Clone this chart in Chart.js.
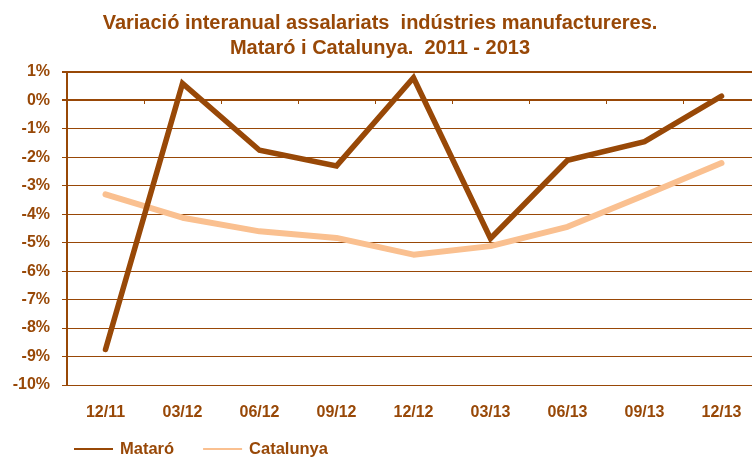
<!DOCTYPE html>
<html><head><meta charset="utf-8">
<script src="https://cdn.jsdelivr.net/npm/chart.js@4/dist/chart.umd.min.js"></script>
<style>html,body{margin:0;padding:0;overflow:hidden;background:#fff}#wrap{width:760px;height:457px}</style>
</head><body><div id="wrap"><canvas id="c" width="760" height="457"></canvas></div>
<script>
const categories = ['12/11','03/12','06/12','09/12','12/12','03/13','06/13','09/13','12/13'];
const mataro = [-8.75, 0.6, -1.75, -2.3, 0.8, -4.85, -2.1, -1.45, 0.15];
const catalunya = [-3.3, -4.12, -4.6, -4.83, -5.42, -5.12, -4.44, -3.33, -2.2];
const seriesNames = ['Mataró', 'Catalunya'];
const yMin = -10, yMax = 1, yStep = 1;
const titleLines = ['Variació interanual assalariats  indústries manufactureres.', 'Mataró i Catalunya.  2011 - 2013'];

const BROWN = '#984807';
const PEACH = '#FAC090';
const FONT = "'Liberation Sans', Arial, sans-serif";

const legendPlugin = {
  id: 'customLegend',
  afterDraw(chart) {
    const ctx = chart.ctx;
    ctx.save();
    ctx.font = 'bold 16.5px ' + FONT;
    ctx.textBaseline = 'middle';
    ctx.textAlign = 'left';
    let x = 74;
    const y = 449;
    chart.data.datasets.forEach((ds) => {
      ctx.strokeStyle = ds.borderColor;
      ctx.lineWidth = 2;
      ctx.beginPath();
      ctx.moveTo(x, y);
      ctx.lineTo(x + 39, y);
      ctx.stroke();
      ctx.fillStyle = BROWN;
      ctx.fillText(ds.label, x + 46, y);
      x += 46 + ctx.measureText(ds.label).width + 29;
    });
    ctx.restore();
  }
};

new Chart(document.getElementById('c'), {
  type: 'line',
  data: {
    labels: categories,
    datasets: [
      { label: seriesNames[0], data: mataro, borderColor: BROWN, borderWidth: 5.5, pointRadius: 0, borderCapStyle: 'round', borderJoinStyle: 'miter', tension: 0, order: 1 },
      { label: seriesNames[1], data: catalunya, borderColor: PEACH, borderWidth: 6, pointRadius: 0, borderCapStyle: 'round', borderJoinStyle: 'round', tension: 0, order: 2 }
    ]
  },
  options: {
    responsive: false,
    animation: false,
    layout: { padding: { left: 0, right: 0, top: 0, bottom: 0 } },
    plugins: {
      legend: { display: false },
      tooltip: { enabled: false },
      title: {
        display: true,
        text: titleLines,
        color: BROWN,
        font: { family: FONT, size: 20, weight: 'bold', lineHeight: 1.25 },
        padding: { top: 11, bottom: 11 }
      }
    },
    scales: {
      x: {
        type: 'category',
        position: 'bottom',
        offset: true,
        grid: { display: false, drawTicks: false },
        border: { display: false },
        ticks: { color: BROWN, font: { family: FONT, size: 16, weight: 'bold' }, padding: 18, maxRotation: 0, autoSkip: false },
        afterFit(scale) { scale.height = 72; }
      },
      x2: {
        type: 'category',
        labels: categories,
        position: { y: 0 },
        offset: true,
        grid: { offset: true, drawOnChartArea: false, drawTicks: true, tickLength: 4, color: BROWN, lineWidth: 1 },
        border: { display: false },
        ticks: { display: false }
      },
      y: {
        min: yMin,
        max: yMax,
        ticks: {
          stepSize: yStep,
          color: BROWN,
          font: { family: FONT, size: 16, weight: 'bold' },
          padding: 12,
          callback: (v) => v + '%'
        },
        grid: {
          color: BROWN,
          lineWidth: (c) => (c.tick && (c.tick.value === 0 || c.tick.value === 1)) ? 2 : 1,
          tickLength: 5
        },
        border: { display: true, color: BROWN, width: 2 },
        afterFit(scale) { scale.width = 67; }
      }
    }
  },
  plugins: [legendPlugin]
});
</script>
</body></html>
